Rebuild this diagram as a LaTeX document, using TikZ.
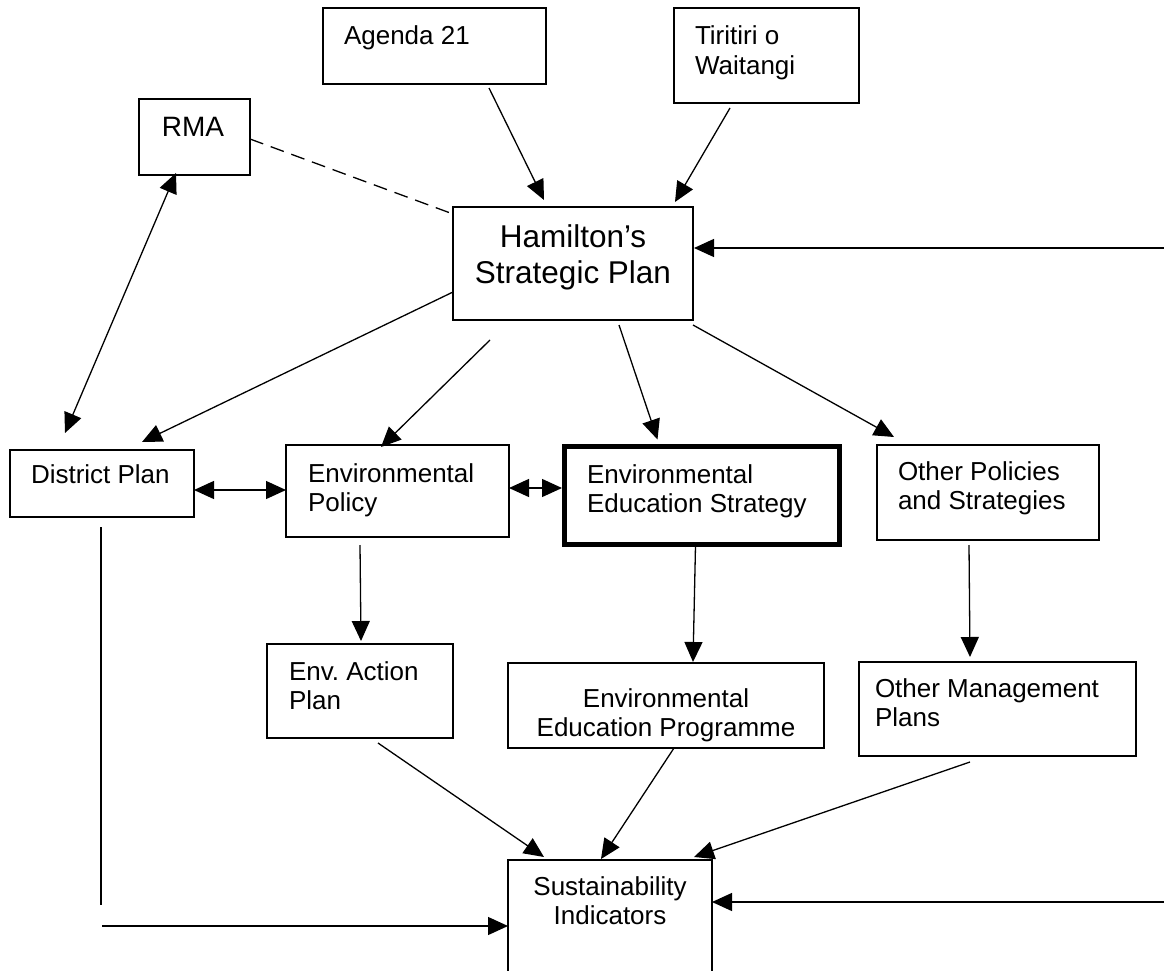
\documentclass[tikz,border=0pt]{standalone}
\usepackage{fontspec}
\setmainfont{Liberation Sans}
\usetikzlibrary{arrows.meta,calc}
\frenchspacing
\newcommand\lefttab[1]{\begin{tabular}[t]{@{}l@{}}#1\end{tabular}}
\newcommand\centab[1]{\begin{tabular}[t]{@{}c@{}}#1\end{tabular}}
\begin{document}
\begin{tikzpicture}[x=1pt,y=-1pt,
  box/.style={draw,line width=1.3pt,inner sep=0pt,outer sep=0pt},
  boldbox/.style={draw,line width=5pt,inner sep=0pt,outer sep=0pt},
  lbl/.style={inner sep=0pt,outer sep=0pt,font=\fontsize{26}{29.5}\selectfont,anchor=base west},
  clbl/.style={lbl,anchor=base},
  conn/.style={line width=1.3pt},
  arr/.style={conn,-{Triangle[length=20pt,width=18pt]}},
  darr/.style={conn,{Triangle[length=20pt,width=18pt]}-{Triangle[length=20pt,width=18pt]}},
  dashline/.style={conn,dash pattern=on 14pt off 8pt}
]
\useasboundingbox (0,0) rectangle (1164,971);
\fill[white] (0,0) rectangle (1164,971);
\clip (0,0) rectangle (1164,971);

% boxes
\node[box,minimum width=223pt,minimum height=76pt]  (agenda)   at (434.5,46)  {};
\node[box,minimum width=185pt,minimum height=95pt]  (tiriti)   at (766.5,55.5) {};
\node[box,minimum width=111pt,minimum height=76pt]  (rma)      at (194.5,137) {};
\node[box,minimum width=240pt,minimum height=113pt] (ham)      at (573,263.5) {};
\node[box,minimum width=184pt,minimum height=67pt]  (district) at (102,483.5) {};
\node[box,minimum width=223pt,minimum height=92pt]  (envpol)   at (397.5,491) {};
\node[boldbox,minimum width=275pt,minimum height=98pt] (ees)   at (702,495.5) {};
\node[box,minimum width=222pt,minimum height=95pt]  (ops)      at (988,492.5) {};
\node[box,minimum width=186pt,minimum height=94pt]  (eap)      at (360,691) {};
\node[box,minimum width=316pt,minimum height=85pt]  (eep)      at (666,705.5) {};
\node[box,minimum width=277pt,minimum height=94pt]  (omp)      at (997.5,709) {};
\node[box,minimum width=204pt,minimum height=140pt] (sust)     at (610,930) {};

% texts
\node[lbl] (tagenda) at (344,45) {Agenda 21};
\node[lbl] (ttiriti) at (695,45) {\lefttab{Tiritiri o\\Waitangi}};
\node[clbl,font=\fontsize{28}{32}\selectfont] (trma) at (193,137) {RMA};
\node[clbl,font=\fontsize{31.5}{36}\selectfont] (tham) at (573,247) {\centab{Hamilton’s\\Strategic Plan}};
\node[lbl] (tdistrict) at (31,483) {District Plan};
\node[lbl] (tenvpol) at (308,482) {\lefttab{Environmental\\Policy}};
\node[lbl] (tees) at (587,483) {\lefttab{Environmental\\Education Strategy}};
\node[lbl] (tops) at (898,480) {\lefttab{Other Policies\\and Strategies}};
\node[lbl] (teap) at (289,680) {\lefttab{Env. Action\\Plan}};
\node[clbl] (teep) at (666,707) {\centab{Environmental\\Education Programme}};
\node[lbl] (tomp) at (875,697) {\lefttab{Other Management\\Plans}};
\node[clbl] (tsust) at (610,895) {\centab{Sustainability\\Indicators}};

% free ends
\coordinate (rightA) at (1164,248);
\coordinate (rightB) at (1164,902);
\coordinate (dlow) at (101,905);
\coordinate (bstart) at (102,926);

% connectors
\draw[arr] ($(agenda.south west)+(166,4)$) -- ($(ham.north west)+(91,-7)$);
\draw[arr] ($(tiriti.south west)+(56,5)$) -- ($(ham.north west)+(222,-5)$);
\draw[dashline] ($(rma.east)+(0,2)$) -- ($(ham.north west)+(0,7)$);
\draw[arr] (rightA) -- ($(ham.north east)+(1,41)$);
\draw[arr] ($(ham.south west)+(0,-28)$) -- ($(district.north west)+(132,-8)$);
\draw[darr] ($(rma.south west)+(37,-2)$) -- ($(district.north west)+(55,-17)$);
\draw[arr] ($(ham.south west)+(37,20)$) -- ($(envpol.north west)+(95,2)$);
\draw[arr] ($(ham.south west)+(166,5)$) -- ($(ees.north west)+(93,-7)$);
\draw[arr] ($(ham.south east)+(0,5)$) -- ($(ops.north west)+(17,-8)$);
\draw[darr] ($(district.east)+(0,6.5)$) -- ($(envpol.west)+(0,-1)$);
\draw[darr] ($(envpol.east)+(0,-3)$) -- ($(ees.west)+(-2.5,-7.5)$);
\draw[arr] ($(envpol.south west)+(74,8)$) -- ($(eap.north)+(1,-3)$);
\draw[arr] ($(ees.south west)+(131,1)$) -- ($(eep.north)+(27,-1)$);
\draw[arr] ($(ops.south west)+(92,5)$) -- ($(omp.north west)+(111,-5)$);
\draw[arr] ($(eap.south west)+(111,5)$) -- ($(sust.north west)+(36,-3)$);
\draw[arr] ($(eep.south west)+(166,0)$) -- ($(sust.north west)+(93,-1)$);
\draw[arr] ($(omp.south west)+(111,6)$) -- ($(sust.north east)+(-18,-3)$);
\draw[arr] (rightB) -- ($(sust.north east)+(0,42)$);
\draw[conn] ($(district.south)+(-1,10)$) -- (dlow);
\draw[arr] (bstart) -- ($(sust.north west)+(0,66)$);
\end{tikzpicture}
\end{document}
